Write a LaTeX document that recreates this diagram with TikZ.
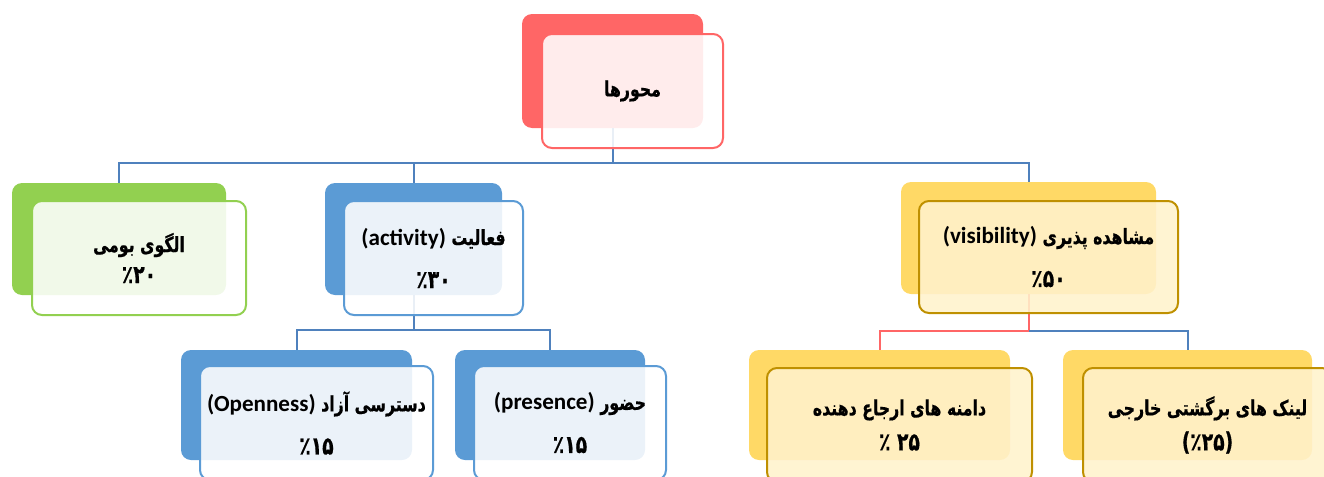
\documentclass[tikz,border=0pt]{standalone}
\usepackage{fontspec}
\setmainfont{Carlito}
\newfontfamily\arabicfont[Script=Arabic, FakeStretch=0.75, BoldFeatures={FakeBold=0.6}]{DejaVu Sans}
\newfontfamily\latinfont[Scale=1.1]{Carlito}
\newcommand{\pctfont}{\fontsize{12.5}{14}\selectfont}
\TeXXeTstate=1
\usepackage{tikz}
\usetikzlibrary{calc}

\definecolor{redD}{HTML}{FF6666}
\definecolor{greenD}{HTML}{92D050}
\definecolor{blueD}{HTML}{5B9BD5}
\definecolor{yellowD}{HTML}{FFD966}
\definecolor{yellowL}{HTML}{FFF2CC}
\definecolor{yellowB}{HTML}{BF9000}
\definecolor{lineblue}{HTML}{4F81BD}

\begin{document}
\begin{tikzpicture}[x=0.5pt,y=-0.5pt,
	back/.style={rounded corners=5pt, fill=#1, inner sep=0pt},
	front/.style 2 args={rounded corners=5pt, draw=#1, fill=#2, line width=1pt,
		fill opacity=0.88, text opacity=1, inner sep=0pt, align=center,
		font=\fontsize{10.5}{12.5}\selectfont\bfseries\arabicfont},
	conn/.style={draw=lineblue, line width=1pt},
	connred/.style={draw=redD, line width=1pt}]
	% page size
	\useasboundingbox (0,0) rectangle (1324,477);
	\clip (0,0) rectangle (1324,477);
	
	% draw back boxes
	\node[back=redD, minimum width=90.5pt, minimum height=57pt] (axes) at (612.5,71) {};
	\node[back=greenD, minimum width=107pt, minimum height=56pt] (native) at (119,239) {};
	\node[back=blueD, minimum width=88.5pt, minimum height=56pt] (activity) at (413.5,239) {};
	\node[back=yellowD, minimum width=127.5pt, minimum height=56pt] (visibility) at (1028.5,238) {};
	\node[back=blueD, minimum width=115.5pt, minimum height=55pt] (openness) at (296.5,405) {};
	\node[back=blueD, minimum width=95pt, minimum height=55pt] (presence) at (550,405) {};
	\node[back=yellowD, minimum width=130.5pt, minimum height=55pt] (domains) at (879.5,405) {};
	\node[back=yellowD, minimum width=124.5pt, minimum height=55pt] (backlinks) at (1187.5,405) {};
	
	% draw connectors
	\coordinate (jaxes) at (612.5,163);
	\coordinate (jactivity) at (413.5,330);
	\coordinate (jvisibility) at (1028.5,331);
	\draw[conn] (axes.south) -- (jaxes) -| (native.north);
	\draw[conn] (jaxes) -| (activity.north);
	\draw[conn] (jaxes) -| (visibility.north);
	\draw[conn] (activity.south) -- (jactivity) -| (openness.north);
	\draw[conn] (jactivity) -| (presence.north);
	\draw[connred] (visibility.south) -- (jvisibility) -| (domains.north);
	\draw[conn] (jvisibility) -| (backlinks.north);
	
	% draw front boxes
	\node[front={redD}{white}, minimum width=90.5pt, minimum height=57pt] (axes-f) at ([shift={(20,20)}]axes) {\beginR محورها\endR};
	\node[front={greenD}{white}, minimum width=107pt, minimum height=57pt] (native-f) at ([shift={(20,19)}]native) {\beginR الگوی بومی\endR\\[3pt] {\pctfont\beginR٪۲۰\endR}};
	\node[front={blueD}{white}, minimum width=89.5pt, minimum height=57pt] (activity-f) at ([shift={(20,19)}]activity) {\beginR فعالیت \beginL{\latinfont (activity)}\endL\endR\\[9pt] {\pctfont\beginR٪۳۰\endR}};
	\node[front={yellowB}{yellowL}, minimum width=129.5pt, minimum height=56pt] (visibility-f) at ([shift={(20,19)}]visibility) {\beginR مشاهده پذیری \beginL{\latinfont (visibility)}\endL\endR\\[9pt] {\pctfont\beginR٪۵۰\endR}};
	\node[front={blueD}{white}, minimum width=116.5pt, minimum height=57pt] (openness-f) at ([shift={(20,18)}]openness) {\beginR دسترسی آزاد \beginL{\latinfont (Openness)}\endL\endR\\[9pt] {\pctfont\beginR٪۱۵\endR}};
	\node[front={blueD}{white}, minimum width=96pt, minimum height=57pt] (presence-f) at ([shift={(20,18)}]presence) {\beginR حضور \beginL{\latinfont (presence)}\endL\endR\\[9pt] {\pctfont\beginR٪۱۵\endR}};
	\node[front={yellowB}{yellowL}, minimum width=132.5pt, minimum height=57pt] (domains-f) at ([shift={(20,20)}]domains) {\beginR دامنه های ارجاع دهنده\endR\\[5pt] {\pctfont\beginR ۲۵ ٪\endR}};
	\node[front={yellowB}{yellowL}, minimum width=124.5pt, minimum height=57pt] (backlinks-f) at ([shift={(20,20)}]backlinks) {\beginR لینک های برگشتی خارجی\endR\\[5pt] {\pctfont\beginR(٪۲۵)\endR}};
\end{tikzpicture}
\end{document}
